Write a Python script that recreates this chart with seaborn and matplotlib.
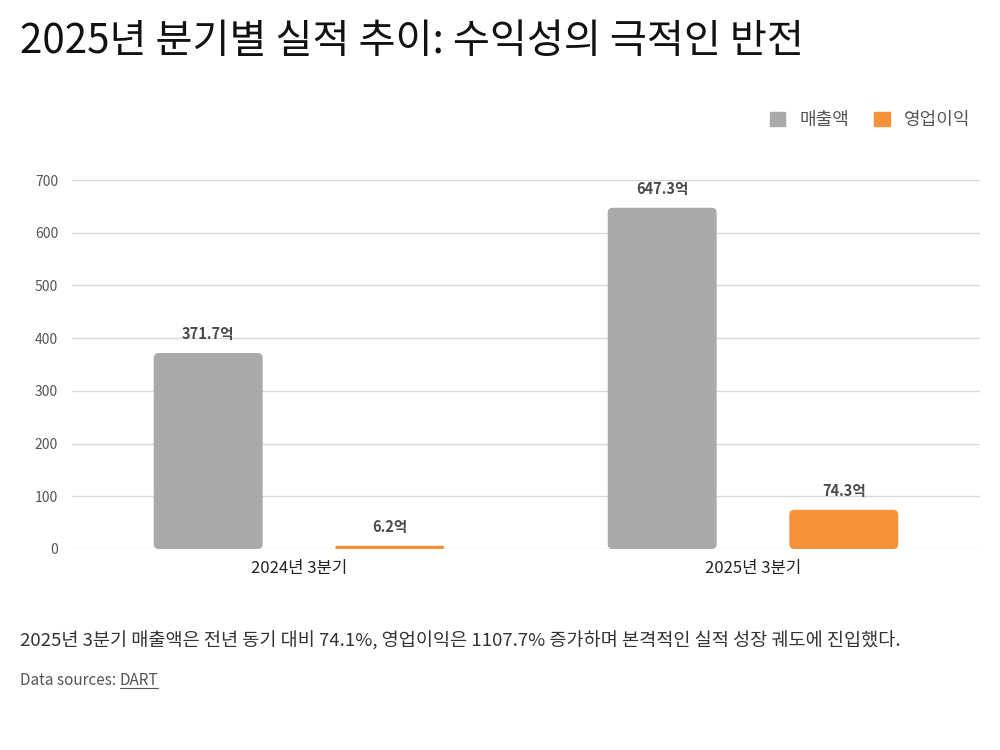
import numpy as np
import pandas as pd
import matplotlib.pyplot as plt
import seaborn as sns
from matplotlib.patches import Patch, FancyBboxPatch
from matplotlib.lines import Line2D

# data
quarters = ['2024년 3분기', '2025년 3분기']
series = ['매출액', '영업이익']
revenue = [371.7, 647.3]
op_income = [6.2, 74.3]
colors = ['#aaaaaa', '#f7923a']

df = pd.DataFrame({
    'quarter': quarters * 2,
    'series': [series[0]] * 2 + [series[1]] * 2,
    'value': revenue + op_income,
})

sns.set_style('white')
plt.rcParams['font.family'] = ['Noto Sans CJK KR', 'DejaVu Sans']

fig = plt.figure(figsize=(10, 7.5), dpi=100)
ax = fig.add_axes([0.072, 0.268, 0.908, 0.492])

sns.barplot(data=df, x='quarter', y='value', hue='series', palette=colors,
            width=0.8, gap=0.4, ax=ax, legend=False, saturation=1)

for c in ax.containers:
    ax.bar_label(c, labels=[f'{v:.1f}억' for v in c.datavalues], padding=8,
                 fontsize=10.5, fontweight='bold', color='#4a4a4a')

ax.set_ylim(0, 700)
ax.set_xlim(-0.5, 1.5)

# rounded bar corners
fig.canvas.draw()
px_x = ax.bbox.width / 2.0      # pixels per x unit
px_y = ax.bbox.height / 700.0   # pixels per y unit
for p in list(ax.patches):
    x, y = p.get_x(), p.get_y()
    w, h = p.get_width(), p.get_height()
    r_px = min(5, h * px_y / 2)
    fb = FancyBboxPatch((x, y), w, h,
                        boxstyle=f'round,pad=0,rounding_size={r_px / px_x}',
                        mutation_aspect=px_x / px_y,
                        facecolor=p.get_facecolor(), edgecolor='none', zorder=p.get_zorder())
    p.set_visible(False)
    ax.add_patch(fb)

ax.set_yticks(range(0, 701, 100))
ax.set_xlabel('')
ax.set_ylabel('')
ax.grid(axis='y', color='#d9d9d9', linewidth=1)
ax.set_axisbelow(True)
for s in ax.spines.values():
    s.set_visible(False)
ax.tick_params(axis='y', length=0, labelsize=10, labelcolor='#555555', pad=10)
ax.tick_params(axis='x', length=0, labelsize=12, labelcolor='#222222', pad=8)

handles = [Patch(facecolor=colors[0], edgecolor=colors[0]),
           Patch(facecolor=colors[1], edgecolor=colors[1])]
fig.legend(handles, series, loc='center right', bbox_to_anchor=(0.987, 0.84),
           ncol=2, frameon=False, handlelength=0.85, handleheight=0.85,
           handletextpad=0.8, columnspacing=1.4, fontsize=13,
           labelcolor='#555555')

fig.text(0.02, 0.944, '2025년 분기별 실적 추이: 수익성의 극적인 반전',
         fontsize=29, color='#111111', va='center', ha='left')
fig.text(0.02, 0.145,
         '2025년 3분기 매출액은 전년 동기 대비 74.1%, 영업이익은 1107.7% 증가하며 본격적인 실적 성장 궤도에 진입했다.',
         fontsize=13.4, color='#333333', va='center', ha='left')
t1 = fig.text(0.02, 0.093, 'Data sources: ', fontsize=11, color='#555555',
              va='center', ha='left')
fig.canvas.draw()
r = fig.canvas.get_renderer()
bb = t1.get_window_extent(r)
x2 = bb.x1 / fig.bbox.width
t2 = fig.text(x2, 0.093, 'DART', fontsize=11, color='#555555',
              va='center', ha='left')
bb2 = t2.get_window_extent(r)
yl = (bb2.y0 + 1) / fig.bbox.height
fig.add_artist(Line2D([bb2.x0 / fig.bbox.width, bb2.x1 / fig.bbox.width], [yl, yl],
                      color='#555555', linewidth=0.8))

fig.savefig('out.png', dpi=100)
